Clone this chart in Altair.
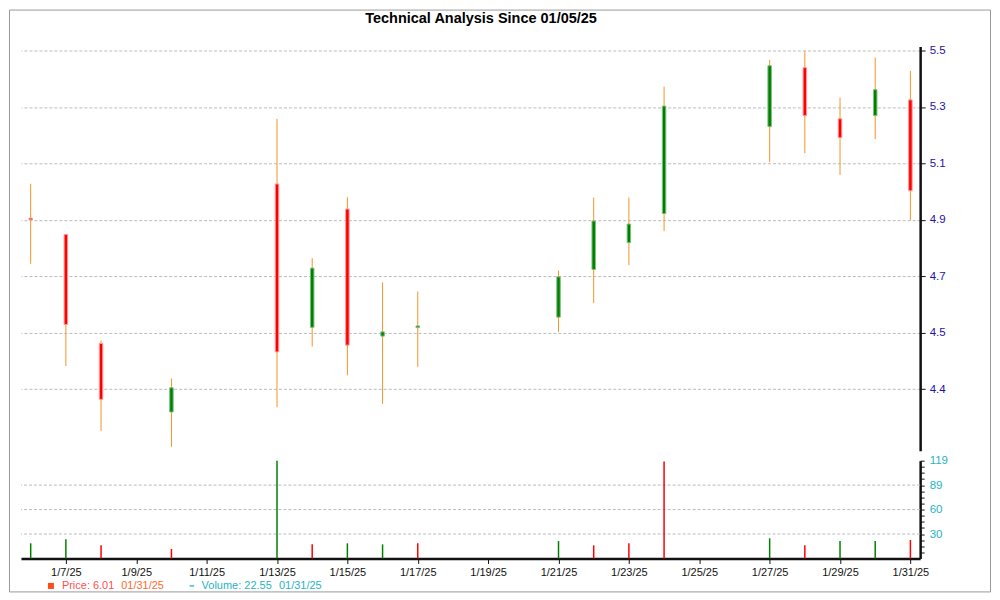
import altair as alt
import pandas as pd

# ---- data ----
dates = ["2025-01-06", "2025-01-07", "2025-01-08", "2025-01-10", "2025-01-13",
         "2025-01-14", "2025-01-15", "2025-01-16", "2025-01-17", "2025-01-21",
         "2025-01-22", "2025-01-23", "2025-01-24", "2025-01-27", "2025-01-28",
         "2025-01-29", "2025-01-30", "2025-01-31"]
open_ = [4.906, 4.848, 4.462, 4.219, 5.027, 4.519, 4.938, 4.488, 4.518, 4.555,
         4.724, 4.819, 4.922, 5.230, 5.439, 5.258, 5.269, 5.325]
high = [5.028, 4.848, 4.472, 4.338, 5.258, 4.764, 4.980, 4.678, 4.646, 4.720,
        4.979, 4.979, 5.372, 5.467, 5.499, 5.333, 5.475, 5.428]
low = [4.744, 4.382, 4.152, 4.096, 4.236, 4.451, 4.349, 4.248, 4.379, 4.503,
       4.605, 4.740, 4.860, 5.105, 5.136, 5.059, 5.186, 4.898]
close = [4.900, 4.529, 4.264, 4.305, 4.432, 4.729, 4.456, 4.503, 4.524, 4.698,
         4.896, 4.885, 5.303, 5.446, 5.269, 5.191, 5.361, 5.003]
volume = [18.5, 23.3, 16.0, 11.5, 119.0, 17.2, 18.5, 17.2, 18.5, 21.2,
          16.0, 18.5, 118.0, 24.5, 16.0, 21.2, 21.2, 22.55]
vol_dir = ["up", "up", "down", "down", "up", "down", "up", "up", "down", "up",
           "down", "down", "down", "up", "down", "up", "up", "down"]

price_ticks = [4.3, 4.5, 4.7, 4.9, 5.1, 5.3, 5.5]
date_ticks = [7, 9, 11, 13, 15, 17, 19, 21, 23, 25, 27, 29, 31]
vol_max = 119
vol_grid = [29.75, 59.5, 89.25]
vol_ticks = [i * vol_max / 16 for i in range(1, 17)]

title_text = "Technical Analysis Since 01/05/25"
legend_price = "Price: 6.01"
legend_volume = "Volume: 22.55"
legend_date = "01/31/25"

df = pd.DataFrame({"date": pd.to_datetime(dates), "open": open_, "high": high,
                   "low": low, "close": close, "volume": volume, "vdir": vol_dir})
df["day"] = df["date"].dt.day
df["dir"] = ["up" if c >= o else "down" for o, c in zip(open_, close)]

FONT = "Liberation Sans"
W = 901
H_PRICE = 405
H_VOL = 98

x_scale = alt.Scale(domain=[5.724, 31.277], nice=False, zero=False, padding=0)
p_scale = alt.Scale(domain=[4.082, 5.514], nice=False, zero=False, padding=0)
v_scale = alt.Scale(domain=[0, vol_max], nice=False, padding=0)

price_axis = alt.Axis(orient="right", values=price_ticks, title=None,
                      labelExpr="datum.value < 4.4 ? '4.4' : format(datum.value, '.1f')",
                      grid=True, gridDash=[3, 2], gridColor="#bbbbbb", gridWidth=1,
                      domainColor="#111111", domainWidth=2.5, tickColor="#111111",
                      tickSize=5, labelPadding=4, labelColor="#2410a8",
                      labelFont=FONT, labelFontSize=11.5, labelFlush=False,
                      labelOverlap=False)

base = alt.Chart(df)
xenc = alt.X("day:Q", scale=x_scale, axis=None)

wick = base.mark_rule(color="#f39526", strokeWidth=1).encode(
    x=xenc,
    y=alt.Y("low:Q", scale=p_scale, axis=price_axis),
    y2="high:Q",
)
body = base.mark_bar(size=3.5, strokeWidth=1).encode(
    x=xenc,
    y=alt.Y("open:Q", scale=p_scale, axis=price_axis),
    y2="close:Q",
    color=alt.Color("dir:N", scale=alt.Scale(domain=["up", "down"], range=["#008000", "#ff0000"]), legend=None),
    stroke=alt.Stroke("dir:N", scale=alt.Scale(domain=["up", "down"], range=["#80c080", "#ff9a9a"]), legend=None),
)

one = alt.Chart(pd.DataFrame({"a": [0]}))
frame = one.mark_rect(fill="white", fillOpacity=0, stroke="#9a9a9a", strokeWidth=1).encode(
    x=alt.value(-11.5), x2=alt.value(971.5), y=alt.value(-36.5), y2=alt.value(546.5))
title = one.mark_text(text=title_text, font=FONT, fontSize=14.5, fontWeight="bold",
                      color="#000000", align="center", baseline="top").encode(
    x=alt.value(461), y=alt.value(-35))

price = alt.layer(wick, body, title, frame).properties(width=W, height=H_PRICE)

vol_axis = alt.Axis(orient="right", values=vol_ticks, title=None, grid=False,
                    labelExpr="abs(datum.value / 29.75 - round(datum.value / 29.75)) < 0.001 ? format(datum.value, '.0f') : ''",
                    domainColor="#111111", domainWidth=2.5, tickColor="#111111",
                    tickSize=4, labelPadding=5, labelColor="#1fb3c4",
                    labelFont=FONT, labelFontSize=11.5, labelFlush=False,
                    labelOverlap=False)
x_axis = alt.Axis(values=date_ticks, title=None, labelExpr="'1/' + datum.value + '/25'",
                  domainColor="#111111", domainWidth=2.5, tickColor="#111111",
                  tickSize=5, labelPadding=3, labelColor="#111111", labelFont=FONT,
                  labelFontSize=11, labelFlush=False, labelOverlap=False, grid=False)

vgrid = alt.Chart(pd.DataFrame({"g": vol_grid})).mark_rule(
    color="#bbbbbb", strokeDash=[3, 2], strokeWidth=1).encode(
    y=alt.Y("g:Q", scale=v_scale, axis=vol_axis))
vbars = base.mark_bar(size=1.5).encode(
    x=alt.X("day:Q", scale=x_scale, axis=x_axis),
    y=alt.Y("volume:Q", scale=v_scale, axis=vol_axis),
    color=alt.Color("vdir:N", scale=alt.Scale(domain=["up", "down"], range=["#22a33a", "#ee2200"]), legend=None),
)


def label(txt, x, color, align="left"):
    return one.mark_text(text=txt, font=FONT, fontSize=11, color=color, align=align,
                         baseline="middle").encode(x=alt.value(x), y=alt.value(126))


leg_marker = one.mark_point(shape="square", filled=True, size=36, opacity=1, color="#ff4a1a").encode(
    x=alt.value(30), y=alt.value(125.5))
leg_dash = one.mark_rule(color="#1fb3c4", strokeWidth=1.3).encode(
    x=alt.value(169), x2=alt.value(173.5), y=alt.value(125.5))

volume_chart = alt.layer(
    vgrid, vbars, leg_marker, leg_dash,
    label(legend_price, 41, "#ff4f4f"), label(legend_date, 100.5, "#ff6a2a"),
    label(legend_volume, 181, "#1fb3c4"), label(legend_date, 258.5, "#1fb3c4"),
).properties(width=W, height=H_VOL)

chart = alt.vconcat(price, volume_chart, spacing=10, bounds="flush").properties(
    padding=0, background="white"
).configure_view(stroke="transparent")

chart.save("out.html", embed_options={"renderer": "svg", "actions": False})
